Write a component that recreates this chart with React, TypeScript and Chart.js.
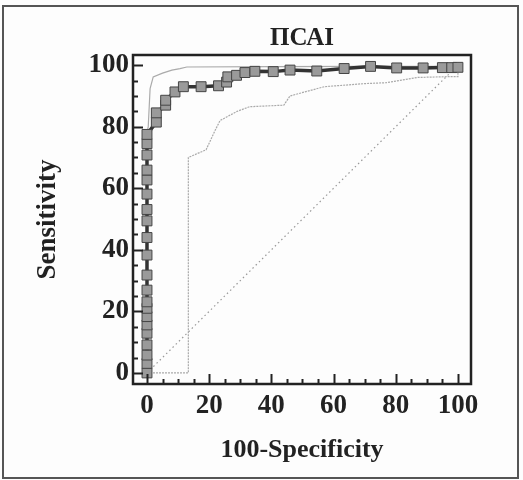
import React, { useEffect, useRef } from 'react';
import { Chart, registerables } from 'chart.js';

Chart.register(...registerables);

// ROC curve (100-Specificity, Sensitivity)
const rocX = [0, 0, 0, 0, 0, 0, 0, 0, 0, 0, 0, 0, 0, 0, 0, 0, 0, 0, 0, 0, 0, 3, 3, 6, 6, 9, 11.7, 17.4, 23, 25.6, 26, 28.8, 31.5, 34.7, 40.6, 46, 54.6, 63.4, 71.9, 80.3, 88.8, 95, 98, 100];
const rocY = [0, 3.1, 5.8, 9.1, 12.9, 15.6, 18.3, 21, 23.1, 26.9, 31.8, 38.3, 44, 49.4, 53.1, 58.1, 62.7, 65.9, 70.8, 74.5, 77.5, 81.5, 84.5, 87, 88.6, 91.3, 93, 93, 93.3, 94.5, 96.2, 96.7, 97.6, 98, 97.9, 98.4, 98.1, 98.9, 99.6, 99.1, 99.1, 99.2, 99.2, 99.3];

// Upper confidence bound
const upperX = [0, 0, 0.4, 1, 2, 5, 8, 10.6, 12.8, 40, 70, 100, 100];
const upperY = [0, 78, 80, 92.4, 96.2, 97.4, 98.4, 98.9, 99.4, 99.5, 99.6, 99.6, 100];

// Lower confidence bound
const lowerX = [0, 13.3, 13.3, 19, 22, 23.5, 29, 33, 44, 46, 57, 70, 77, 87, 98, 100, 100];
const lowerY = [0, 0, 70, 72.5, 79, 82, 85, 86.5, 87, 90, 93, 94, 94.3, 96, 96.3, 96.3, 100];

// Reference diagonal
const diagX = [0, 100];
const diagY = [0, 100];

const xTicks = [0, 20, 40, 60, 80, 100];
const yTicks = [0, 20, 40, 60, 80, 100];
const minorStep = 5;

const chartTitle = 'ПСАІ';
const xTitle = '100-Specificity';
const yTitle = 'Sensitivity';

const toPts = (xs: number[], ys: number[]) => xs.map((x, i) => ({ x, y: ys[i] }));

const FONT = "'Liberation Serif', 'Times New Roman', serif";
const INK = '#222';

const framePlugin = {
  id: 'frameTicks',
  beforeDraw(chart: any) {
    const { ctx, width, height } = chart;
    ctx.save();
    ctx.fillStyle = '#fdfdfd';
    ctx.fillRect(0, 0, width, height);
    ctx.strokeStyle = '#555';
    ctx.lineWidth = 2;
    ctx.strokeRect(3, 6, 515, 472);
    ctx.restore();
  },
  afterDraw(chart: any) {
    const { ctx, chartArea, scales } = chart;
    const { left, right, top, bottom } = chartArea;
    const xs = scales.x;
    const ys = scales.y;
    ctx.save();
    ctx.strokeStyle = INK;
    ctx.lineWidth = 2.5;
    ctx.strokeRect(left, top, right - left, bottom - top);
    ctx.lineWidth = 2;
    for (let v = 0; v <= 100; v += minorStep) {
      const len = v % 20 === 0 ? 10 : 5;
      const px = Math.round(xs.getPixelForValue(v)) + 0.5;
      ctx.beginPath();
      ctx.moveTo(px, bottom);
      ctx.lineTo(px, bottom - len);
      ctx.stroke();
      const py = Math.round(ys.getPixelForValue(v)) + 0.5;
      ctx.beginPath();
      ctx.moveTo(left, py);
      ctx.lineTo(left + len, py);
      ctx.stroke();
    }
    ctx.restore();
  },
};

export default function App() {
  const ref = useRef<HTMLCanvasElement>(null);
  useEffect(() => {
    const chart = new Chart(ref.current as HTMLCanvasElement, {
      type: 'scatter',
      data: {
        datasets: [
          {
            label: 'ROC',
            data: toPts(rocX, rocY),
            showLine: true,
            borderColor: '#333',
            borderWidth: 3.5,
            pointStyle: 'rect',
            pointRadius: 7,
            pointBackgroundColor: '#9a9a9a',
            pointBorderColor: '#444',
            pointBorderWidth: 1,
            clip: false,
          } as any,
          {
            label: 'Upper',
            data: toPts(upperX, upperY),
            showLine: true,
            borderColor: '#aaa',
            borderWidth: 1.2,
            pointRadius: 0,
          } as any,
          {
            label: 'Lower',
            data: toPts(lowerX, lowerY),
            showLine: true,
            borderColor: '#aaa',
            borderWidth: 1.2,
            borderDash: [2, 1],
            pointRadius: 0,
          } as any,
          {
            label: 'Diagonal',
            data: toPts(diagX, diagY),
            showLine: true,
            borderColor: '#999',
            borderWidth: 1.2,
            borderDash: [1.5, 3],
            pointRadius: 0,
          } as any,
        ],
      },
      options: {
        responsive: false,
        animation: false,
        devicePixelRatio: 1,
        layout: { padding: { left: 0, right: 52, top: 0, bottom: 5 } },
        plugins: {
          legend: { display: false },
          tooltip: { enabled: false },
          title: {
            display: true,
            text: chartTitle,
            fullSize: false,
            color: INK,
            font: { family: FONT, size: 25, weight: 'bold', lineHeight: 1.2 },
            padding: { top: 24, bottom: 1 },
          },
        },
        scales: {
          x: {
            type: 'linear',
            min: -4.5,
            max: 104.2,
            grid: { display: false, drawTicks: false },
            border: { display: false },
            afterBuildTicks: (s: any) => {
              s.ticks = xTicks.map((v) => ({ value: v }));
            },
            afterFit: (s: any) => {
              s.height = 91;
            },
            ticks: {
              autoSkip: false,
              maxRotation: 0,
              padding: 6,
              color: INK,
              font: { family: FONT, size: 27, weight: 'bold' },
            },
            title: {
              display: true,
              text: xTitle,
              color: INK,
              font: { family: FONT, size: 26, weight: 'bold', lineHeight: 1.2 },
              padding: { top: 0, bottom: 9 },
            },
          },
          y: {
            type: 'linear',
            min: -3.6,
            max: 103.3,
            grid: { display: false, drawTicks: false },
            border: { display: false },
            afterBuildTicks: (s: any) => {
              s.ticks = yTicks.map((v) => ({ value: v }));
            },
            afterFit: (s: any) => {
              s.width = 133;
            },
            ticks: {
              autoSkip: false,
              padding: 4,
              color: INK,
              font: { family: FONT, size: 27, weight: 'bold' },
            },
            title: {
              display: true,
              text: yTitle,
              color: INK,
              font: { family: FONT, size: 27, weight: 'bold', lineHeight: 1.2 },
              padding: { top: 32, bottom: 0 },
            },
          },
        },
      } as any,
      plugins: [framePlugin],
    });
    return () => chart.destroy();
  }, []);
  return (
    <div style={{ position: 'absolute', left: 0, top: 0, width: 523, height: 480 }}>
      <canvas ref={ref} width={523} height={480} style={{ display: 'block' }} />
    </div>
  );
}
